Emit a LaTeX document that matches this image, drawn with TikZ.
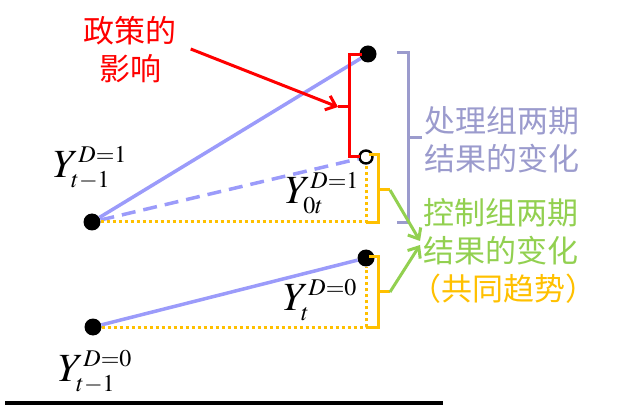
\documentclass[tikz,border=0pt]{standalone}
\usepackage{mathptmx}
\usepackage{fontspec}
\newfontfamily\cjk{Noto Sans CJK SC}
\usepackage{xcolor}
\usetikzlibrary{positioning, arrows.meta}

\definecolor{trendblue}{RGB}{155,155,250}
\definecolor{treatgray}{RGB}{155,155,205}
\definecolor{ctrlgreen}{RGB}{146,208,80}
\definecolor{trendorange}{RGB}{255,192,0}

\begin{document}
\begin{tikzpicture}[
    x=1pt, y=-1pt,
    dot/.style={
        circle, 
        fill=black, 
        inner sep=0pt, 
        minimum size=17pt
    },
    hollow/.style={
        circle, 
        draw=black, 
        line width=2.4pt, 
        fill=white, 
        inner sep=0pt, 
        minimum size=13pt
    },
    trend/.style={trendblue, line width=3.5pt},
    flatline/.style={trendorange, line width=3pt, dash pattern=on 3pt off 3pt},
    brace/.style={line width=3pt},
    mathlab/.style={font=\fontsize{40}{44}\selectfont, inner sep=0pt},
    note/.style={font=\cjk\fontsize{31}{38}\selectfont, align=left, inner sep=0pt},
    arrow/.style={
        -{Straight Barb[length=9pt, width=15pt]}, 
        line width=3pt
    }
]
\useasboundingbox (0,0) rectangle (623,411);

% Points
\node (preT) [dot] at (92,222) {};
\node (postT) [dot] at (368,54) {};
\node (postCf) [hollow] at (366,157) {};
\node (preC) [dot] at (93,327) {};
\node (postC) [dot] at (366,258) {};

% Trends
\draw [trend] (preT) -- (postT);
\draw [trend, dash pattern=on 14pt off 8pt] (preT) -- (postCf);
\draw [trend] (preC) -- (postC);

% Levels
\draw [flatline] (preT) -- (preT -| postCf) -- (postCf);
\draw [flatline] (preC) -- (preC -| postC) -- (postC);

% Labels
\node (preTlab) [mathlab] at (90,168) {$Y^{\scriptscriptstyle D=1}_{\scriptscriptstyle t-1}$};
\node (postCflab) [mathlab] at (322,193) {$Y^{\scriptscriptstyle D=1}_{\scriptscriptstyle 0t}$};
\node (postClab) [mathlab] at (320,300) {$Y^{\scriptscriptstyle D=0}_{\scriptscriptstyle t}$};
\node (preClab) [mathlab] at (95,372) {$Y^{\scriptscriptstyle D=0}_{\scriptscriptstyle t-1}$};

% Brackets
\coordinate (effTip) at (338,107);
\coordinate (cfTip) at (390,190);
\coordinate (cTip) at (390,292);
\draw [brace, red] (362,55) -| (349,157) -- (360,157);
\draw [brace, red] (349,107) -- (effTip);
\draw [brace, trendorange] (369,155) -| (378,223) -- (366,223);
\draw [brace, trendorange] (378,190) -- (cfTip);
\draw [brace, trendorange] (369,257) -| (378,327) -- (366,327);
\draw [brace, trendorange] (378,292) -- (cTip);
\draw [brace, treatgray] (397,53) -| (408,223) -- (397,223);
\draw [brace, treatgray] (408,138) -- (422,138);

% Notes
\node (effect) [note, red, align=center] at (130,50) {政策的\\影响};
\node (treatText) [note, treatgray, anchor=west] at (424,140) {处理组两期\\结果的变化};
\node (ctrlText) [note, ctrlgreen, anchor=west] at (423,251) {控制组两期\\结果的变化\\\hspace*{-13pt}\textcolor{trendorange}{（共同趋势）}};

% Arrows
\coordinate (meetA) at (420,241);
\coordinate (meetB) at (420,245);
\draw [arrow, red] ([xshift=14pt, yshift=1pt]effect.east) -- (effTip);
\draw [arrow, ctrlgreen] (cfTip) -- (meetA);
\draw [arrow, ctrlgreen] (cTip) -- (meetB);

% Axis
\draw [line width=4pt] (5,403) -- (443,403);

\end{tikzpicture}
\end{document}
